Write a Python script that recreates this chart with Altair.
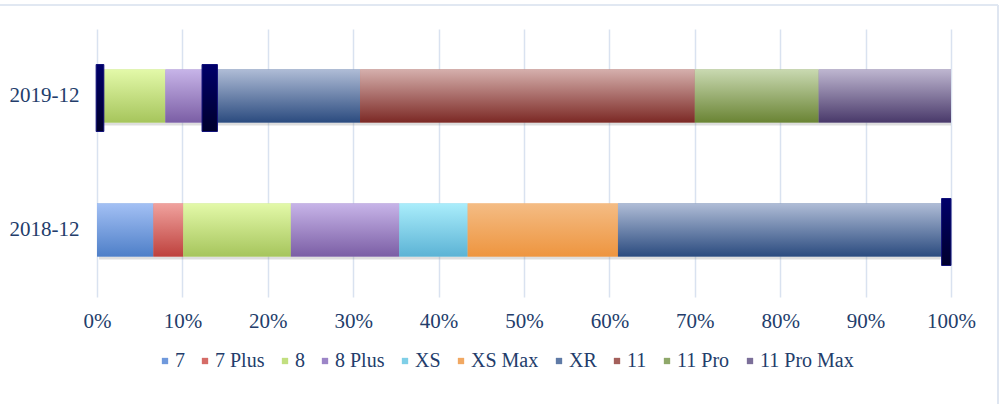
import altair as alt
import pandas as pd

# Quarterly iPhone model mix (percent of units sold)
periods = ["2019-12", "2018-12"]
models = ["7", "7 Plus", "8", "8 Plus", "XS", "XS Max", "XR", "11", "11 Pro", "11 Pro Max"]
share_2019 = [0.4, 0.4, 7.2, 4.7, 0.5, 0.9, 16.7, 39.2, 14.5, 15.5]
share_2018 = [6.6, 3.5, 12.6, 12.7, 8.0, 17.6, 39.0, 0.0, 0.0, 0.0]

# gradient stops per model: (top, bottom)
top_colors = ["#a3c0f4", "#f0a29e", "#e3f9a9", "#c7b4e8", "#aaedfb", "#f4bc84",
              "#afbcd6", "#d5afac", "#c9d9b1", "#beb6d0"]
bottom_colors = ["#4e7fc8", "#be413d", "#a6c55c", "#7b5ea5", "#5cb3d5", "#ee953f",
                 "#2b4b7f", "#7c2925", "#6a8434", "#49396a"]
mid_colors = ["#6f99dc", "#d56c67", "#c2df80", "#9c85c7", "#7fcfe7", "#f1a862",
              "#5f7aa6", "#a4605b", "#8fa86a", "#7b6f99"]

# highlighted spans drawn over the bars (period, start %, end %)
mark_period = ["2019-12", "2019-12", "2018-12"]
mark_start = [-0.1, 12.3, 98.9]
mark_end = [0.8, 14.1, 100.0]

rows = []
for p, vals in zip(periods, [share_2019, share_2018]):
    for i, (m, v) in enumerate(zip(models, vals)):
        rows.append({"period": p, "model": m, "share": v, "order": i})
df = pd.DataFrame(rows)

marks_df = pd.DataFrame({"period": mark_period,
                         "start": [s / 100 for s in mark_start],
                         "end": [e / 100 for e in mark_end]})

FONT = "Liberation Serif"
TXT = "#233d6b"
BAR = 53

y_enc = alt.Y("period:N", sort=periods, title=None,
              axis=alt.Axis(labelFont=FONT, labelFontSize=21, labelColor=TXT,
                            domain=False, ticks=False, labelPadding=18))
x_scale = alt.Scale(domain=[0, 1], nice=False)
x_axis = alt.Axis(format="%", values=[i / 10 for i in range(11)], labelFont=FONT,
                  labelFontSize=21, labelColor=TXT, domain=False, ticks=False,
                  labelPadding=13, grid=True, gridColor="#d9e2f0", gridWidth=1.5,
                  title=None, labelFlush=False)

base = alt.Chart(df).transform_stack(
    stack="share", groupby=["period"], as_=["x0", "x1"],
    sort=[alt.SortField("order", order="ascending")], offset="normalize")

shadow = alt.Chart(df).transform_aggregate(
    total="sum(share)", groupby=["period"]
).transform_calculate(s0="0", s1="1").mark_bar(
    size=BAR, color="#8a8a8a", opacity=0.28, yOffset=3, xOffset=2
).encode(x=alt.X("s0:Q", scale=x_scale, axis=x_axis), x2="s1:Q", y=y_enc)

flat = base.mark_bar(size=BAR).encode(
    x=alt.X("x0:Q", scale=x_scale, axis=x_axis), x2="x1:Q", y=y_enc,
    color=alt.Color("model:N", sort=models,
                    scale=alt.Scale(domain=models, range=mid_colors),
                    legend=alt.Legend(title=None, orient="none", direction="horizontal",
                                      legendX=58, legendY=322, columns=10,
                                      gridAlign="none",
                                      symbolType="square", symbolSize=40,
                                      symbolStrokeWidth=0, labelFont=FONT,
                                      labelFontSize=20, labelColor=TXT,
                                      labelOffset=0, columnPadding=10)))

layers = [shadow, flat]
for m, t, b in zip(models, top_colors, bottom_colors):
    grad = alt.Gradient(gradient="linear",
                        stops=[alt.GradientStop(color=t, offset=0),
                               alt.GradientStop(color=b, offset=1)],
                        x1=0, x2=0, y1=0, y2=1)
    layers.append(base.transform_filter(alt.datum.model == m).mark_bar(
        size=BAR, color=grad).encode(x=alt.X("x0:Q", scale=x_scale, axis=x_axis),
                                     x2="x1:Q", y=y_enc))

mark_grad = alt.Gradient(gradient="linear",
                         stops=[alt.GradientStop(color="#00006a", offset=0),
                                alt.GradientStop(color="#00002c", offset=1)],
                         x1=0, x2=0, y1=0, y2=1)
spans = alt.Chart(marks_df).mark_bar(
    size=67, color=mark_grad, stroke="#10107a", strokeWidth=1, yOffset=2
).encode(x=alt.X("start:Q", scale=x_scale, axis=x_axis), x2="end:Q", y=y_enc)
layers.append(spans)

# frame lines of the chart area
frame_top = alt.Chart(df).mark_rule(color="#e1e8f2", strokeWidth=2).encode(
    x=alt.value(-97), x2=alt.value(901), y=alt.value(-24))
frame_right = alt.Chart(df).mark_rule(color="#dfe6f1", strokeWidth=2).encode(
    x=alt.value(901), y=alt.value(-24), y2=alt.value(380))
layers += [frame_top, frame_right]

chart = alt.layer(*layers).properties(
    width=854, height=268,
    autosize=alt.AutoSizeParams(type="none"),
    padding={"left": 97, "top": 29, "right": 49, "bottom": 107},
    background="white",
).configure_view(stroke=None)

chart.save("out.html", embed_options={"renderer": "svg", "actions": False})
